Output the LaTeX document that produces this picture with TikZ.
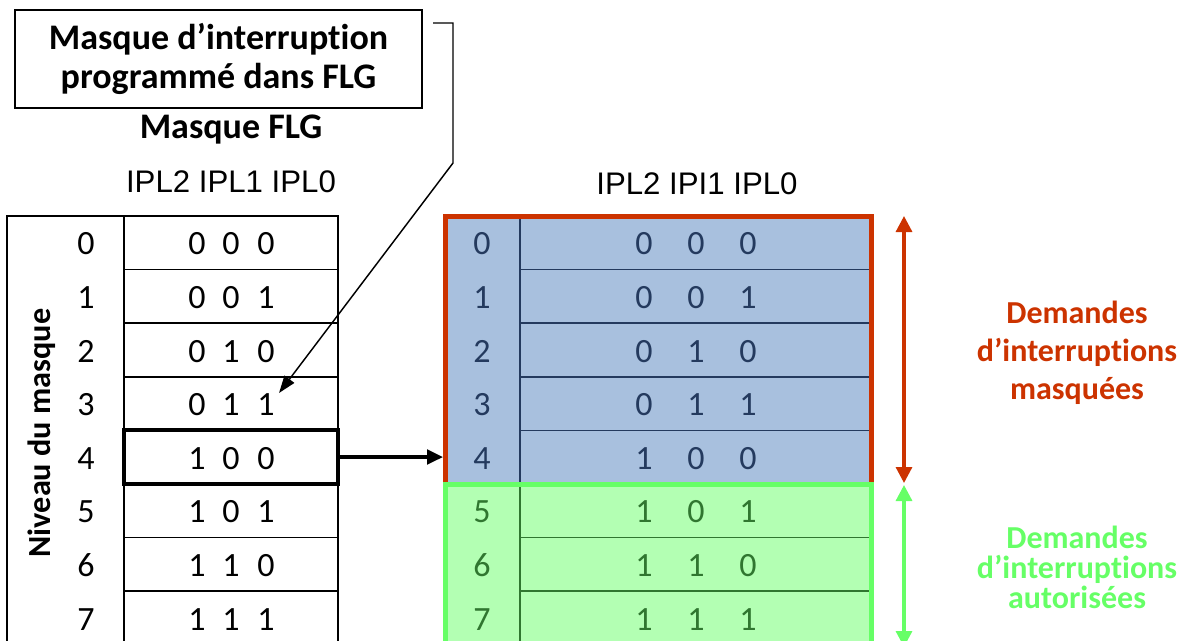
\documentclass[tikz,border=0pt]{standalone}
\usepackage{fontspec}
\setmainfont{Carlito}[Ligatures={TeX,NoCommon}]
\newfontfamily\arialf{Liberation Sans}
\usetikzlibrary{arrows.meta}
\definecolor{maskred}{RGB}{204,51,0}
\definecolor{okgreen}{RGB}{102,255,102}
\definecolor{cellblue}{RGB}{168,192,222}
\definecolor{cellgreen}{RGB}{179,255,179}
\definecolor{inkblue}{RGB}{36,58,94}
\definecolor{inkgreen}{RGB}{48,118,48}
\tikzset{
  grid/.style={line width=1.2pt},
  digit/.style={inner sep=0pt, font=\fontsize{25.5}{30}\selectfont},
  hdr/.style={inner sep=0pt, font=\arialf\fontsize{23.4}{27}\selectfont},
  boldlbl/.style={inner sep=0pt, align=center, font=\bfseries\fontsize{24}{28.5}\selectfont},
  link/.style={line width=1.1pt, -{Triangle[length=13pt,width=9pt]}},
}
\begin{document}
\begin{tikzpicture}[x=0.75pt,y=-0.75pt]
\useasboundingbox (0,0) rectangle (1191,640);

% ---- title box and its pointer ----
\node[draw, line width=1.2pt, minimum width=407*0.75pt, minimum height=98*0.75pt,
      align=center, inner sep=0pt, font=\bfseries\fontsize{27}{29.5}\selectfont]
  (callout) at (218.5,59) {Masque d’interruption\\programmé dans FLG};
\node[boldlbl, font=\bfseries\fontsize{27}{30}\selectfont] (flg) at (231,130) {Masque FLG};
\node[hdr] (hdrL) at (231,182) {IPL2 IPL1 IPL0};
\node[hdr] (hdrR) at (697,184) {IPL2 IPI1 IPL0};

% ---- left table: mask levels ----
\draw[grid] (7,645) -- (7,216) -- (338,216) -- (338,645);
\draw[grid] (124,216) -- (124,645);
\foreach \k in {1,...,7} \draw[grid] (124,216+53.6*\k) -- (338,216+53.6*\k);
\node[boldlbl, rotate=90, font=\bfseries\fontsize{24.2}{28}\selectfont] (lvl) at (42,433) {Niveau du masque};
\foreach \k/\a/\b/\c in {0/0/0/0,1/0/0/1,2/0/1/0,3/0/1/1,4/1/0/0,5/1/0/1,6/1/1/0,7/1/1/1}{
  \node[digit] (ln\k) at (86,216+53.6*\k+28) {\k};
  \node[digit] (la\k) at (197,216+53.6*\k+28) {\a};
  \node[digit] (lb\k) at (231,216+53.6*\k+28) {\b};
  \node[digit] (lc\k) at (266,216+53.6*\k+28) {\c};
}
\node[draw, line width=3pt, minimum width=214*0.75pt, minimum height=54*0.75pt, inner sep=0pt]
  (sel) at (231,457) {};

% ---- right table: masked / enabled requests ----
\fill[cellblue] (443,214) rectangle (874,484);
\fill[cellgreen] (443,484) rectangle (874,650);
\draw[inkblue, grid] (520,216) -- (520,484);
\foreach \k in {1,...,4} \draw[inkblue, grid] (520,216+53.6*\k) -- (871,216+53.6*\k);
\draw[inkgreen, grid] (520,484) -- (520,650);
\foreach \k in {6,7} \draw[inkgreen, grid] (520,216+53.6*\k) -- (871,216+53.6*\k);
\draw[maskred, line width=3.75pt] (445.5,486) -- (445.5,216.5) -- (871.5,216.5) -- (871.5,486);
\draw[okgreen, line width=3.75pt] (445.5,650) -- (445.5,484.5) -- (871.5,484.5) -- (871.5,650);
\foreach \k/\a/\b/\c in {0/0/0/0,1/0/0/1,2/0/1/0,3/0/1/1,4/1/0/0}{
  \node[digit, text=inkblue] (rn\k) at (482,216+53.6*\k+28) {\k};
  \node[digit, text=inkblue] (ra\k) at (644,216+53.6*\k+28) {\a};
  \node[digit, text=inkblue] (rb\k) at (696,216+53.6*\k+28) {\b};
  \node[digit, text=inkblue] (rc\k) at (748,216+53.6*\k+28) {\c};
}
\foreach \k/\a/\b/\c in {5/1/0/1,6/1/1/0,7/1/1/1}{
  \node[digit, text=inkgreen] (rn\k) at (482,216+53.6*\k+28) {\k};
  \node[digit, text=inkgreen] (ra\k) at (644,216+53.6*\k+28) {\a};
  \node[digit, text=inkgreen] (rb\k) at (696,216+53.6*\k+28) {\b};
  \node[digit, text=inkgreen] (rc\k) at (748,216+53.6*\k+28) {\c};
}
\coordinate (rin) at (443,457);

% ---- connectors ----
\coordinate (k0) at (433,23);
\coordinate (k1) at (453,23);
\coordinate (k2) at (453,163);
\coordinate (tip) at (279,393);
\draw[link] (k0) -- (k1) -- (k2) -- (tip);
\draw[line width=2.4pt, -{Triangle[length=12pt,width=11pt]}] (sel.east) -- (rin);

% ---- range braces ----
\coordinate (mtop) at (904,216);
\coordinate (mbot) at (904,483);
\coordinate (gtop) at (904,485);
\coordinate (gbot) at (904,647);
\draw[maskred, line width=2.4pt, {Triangle[length=12pt,width=12pt]}-{Triangle[length=12pt,width=12pt]}] (mtop) -- (mbot);
\draw[okgreen, line width=2.4pt, {Triangle[length=12pt,width=12pt]}-{Triangle[length=12pt,width=12pt]}] (gtop) -- (gbot);
\node[boldlbl, text=maskred] (masked) at (1077,353) {Demandes\\d’interruptions\\masquées};
\node[boldlbl, text=okgreen, font=\bfseries\fontsize{24}{22.5}\selectfont] (allowed) at (1077,567) {Demandes\\d’interruptions\\autorisées};
\end{tikzpicture}
\end{document}
